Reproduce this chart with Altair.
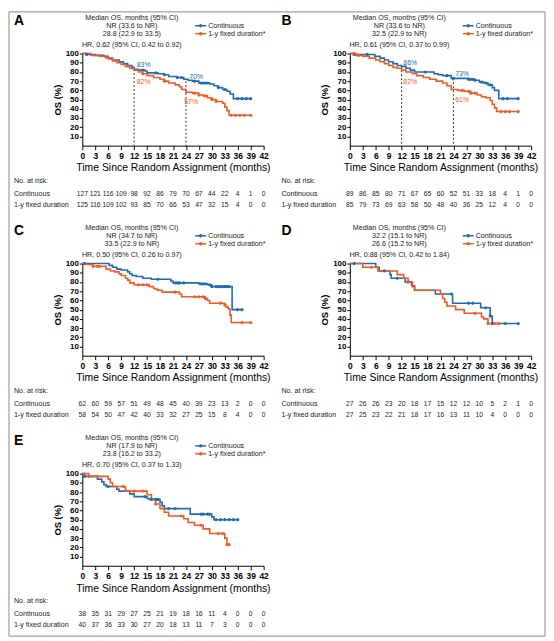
import pandas as pd
import altair as alt

BLUE = "#1f6cb0"
ORANGE = "#f15a22"
ARMS = ["Continuous", "1-y fixed duration*"]
ROW_NAMES = ["Continuous", "1-y fixed duration"]
FONT = "Liberation Sans"
RISK_TIMES = list(range(0, 43, 3))
W, H = 183, 93

# ---- Panel A ----
A_CONT_T = [0, 1, 3, 5, 6, 7, 8.5, 9.5, 10.5, 11.5, 12, 13, 14.5, 15, 17.5, 19, 20, 22, 23.5, 24.5, 25.5, 27, 29.5, 30.5, 31.5, 32.5, 33.5, 34.2, 35, 39]
A_CONT_S = [100, 99, 98, 97, 95, 93, 91, 89, 87, 85, 83, 82, 81, 79, 78, 77, 75, 74, 72, 71, 70, 68, 67, 65, 63, 61, 59, 56, 51, 51]
A_CONT_C = [1, 14, 17, 19, 22, 23, 26, 27.5, 28, 28.5, 29, 31.5, 33, 36, 37, 38, 39]
A_FIX_T = [0, 2, 4, 5.5, 6, 7, 8, 9, 10, 11, 12, 13, 14, 15, 16.5, 18, 19, 20, 21.5, 22.5, 23, 24, 25.5, 27, 28, 29, 30, 31, 32.5, 33, 33.5, 34, 39]
A_FIX_S = [100, 98, 97, 96, 94, 92, 90, 88, 86, 84, 82, 80, 78, 76, 74, 72, 70, 68, 66, 64, 61, 58, 57, 55, 54, 52, 50, 48, 46, 42, 38, 33, 33]
A_FIX_C = [5.5, 14, 19, 26, 27, 28.5, 30, 31, 34.5, 35.5, 36.5, 37.5, 39]
A_HEAD = ["NR (33.6 to NR)", "28.8 (22.9 to 33.5)", "HR, 0.62 (95% CI, 0.42  to 0.92)"]
A_RISK_CONT = [127, 121, 116, 109, 98, 92, 86, 79, 70, 67, 44, 22, 4, 1, 0]
A_RISK_FIX = [125, 116, 109, 102, 93, 85, 70, 66, 53, 47, 32, 15, 4, 0, 0]
A_MARK_T = [12, 24]
A_MARK_S = [83, 70]
A_PCT = ["83%", "82%", "70%", "57%"]
A_PCT_T = [12.6, 12.6, 24.8, 23.6]
A_PCT_S = [87.5, 69, 75, 47]

# ---- Panel B ----
B_CONT_T = [0, 1, 5.8, 7, 8, 9, 10, 11, 12, 13, 14, 15, 19.5, 20.5, 21.5, 23.5, 27.5, 29, 30, 31, 32, 33, 33.5, 34.5, 39]
B_CONT_S = [100, 99, 97, 95, 93, 91, 89, 87, 86, 84, 82, 80, 78, 77, 76, 73, 72, 71, 69, 68, 66, 63, 60, 51, 51]
B_CONT_C = [1, 4, 17.5, 22.5, 24, 27.5, 28, 28.5, 29, 30.5, 31.5, 32.5, 35.5, 36.5, 39]
B_FIX_T = [0, 1.5, 3, 4.5, 6, 7, 8, 9, 10, 11, 12, 13, 14.5, 15.5, 17, 18.5, 20, 21.5, 22.5, 23.5, 25, 26.5, 28, 29.5, 30.5, 31.5, 32.5, 33, 33.5, 34, 39]
B_FIX_S = [100, 98, 97, 95, 93, 91, 89, 87, 85, 84, 82, 80, 78, 76, 74, 72, 70, 68, 65, 61, 60, 59, 57, 55, 53, 52, 49, 45, 41, 37, 37]
B_FIX_C = [1, 2, 26, 27.5, 28, 29, 35, 36, 37, 39]
B_HEAD = ["NR (33.6  to NR)", "32.5 (22.9  to NR)", "HR, 0.61 (95% CI, 0.37  to 0.99)"]
B_RISK_CONT = [89, 86, 85, 80, 71, 67, 65, 60, 52, 51, 33, 18, 4, 1, 0]
B_RISK_FIX = [85, 79, 73, 69, 63, 58, 50, 48, 40, 36, 25, 12, 4, 0, 0]
B_MARK_T = [12, 24]
B_MARK_S = [86, 73]
B_PCT = ["86%", "82%", "73%", "61%"]
B_PCT_T = [12.4, 12.4, 24.4, 24.4]
B_PCT_S = [90, 69, 77.5, 50]

# ---- Panel C ----
C_CONT_T = [0, 6.2, 7, 8, 9, 10.5, 11, 11.5, 12.5, 14, 16, 20.5, 21, 27, 29, 30, 34.7, 37]
C_CONT_S = [100, 98, 96, 94, 93, 91, 89, 87, 86, 84, 83, 81, 79, 78, 77, 75, 50, 50]
C_CONT_C = [0.5, 17.5, 21.5, 22, 22.5, 23.5, 27.5, 28, 28.5, 29.5, 30, 31, 31.5, 32, 32.5, 33, 33.5, 34, 36, 37]
C_FIX_T = [0, 1, 2.5, 5.5, 6.5, 7.5, 8.5, 9, 10, 10.5, 11, 12, 15.5, 16.5, 17, 17.5, 18.5, 22.5, 23, 28.5, 29, 29.5, 33, 33.3, 33.8, 34.2, 34.5, 39]
C_FIX_S = [100, 99, 97, 94, 92, 91, 89, 87, 84, 82, 79, 77, 75, 73, 72, 71, 69, 67, 64, 62, 60, 57, 55, 53, 51, 44, 36, 36]
C_FIX_C = [2.5, 3.5, 4, 13, 14, 15, 21.5, 26, 27, 28, 28.5, 32, 33, 37, 39]
C_HEAD = ["NR (34.7  to NR)", "33.5 (22.9  to NR)", "HR, 0.50 (95% CI, 0.26 to 0.97)"]
C_RISK_CONT = [62, 60, 59, 57, 51, 49, 48, 45, 40, 39, 23, 13, 2, 0, 0]
C_RISK_FIX = [58, 54, 50, 47, 42, 40, 33, 32, 27, 25, 15, 8, 4, 0, 0]

# ---- Panel D ----
D_CONT_T = [0, 6, 6.8, 9.3, 9.6, 12.8, 14.3, 15, 19.8, 23.8, 30.3, 32.5, 33, 39]
D_CONT_S = [100, 96, 92, 88, 84, 80, 76, 71, 67, 57, 52, 43, 35, 35]
D_CONT_C = [1, 8, 11, 13.5, 23.5, 27.5, 28.5, 31.5, 32.5, 33, 36, 39]
D_FIX_T = [0, 3, 6.5, 11, 12.5, 13.5, 14.5, 15, 21, 21.5, 22, 22.5, 24.5, 26.5, 30.5, 31, 32, 34.5]
D_FIX_S = [100, 96, 92, 88, 84, 80, 75, 71, 67, 62, 58, 54, 50, 46, 42, 40, 35, 35]
D_FIX_C = [5, 13.5, 29, 32, 33.5, 34.5]
D_HEAD = ["32.2 (15.1 to NR)", "26.6 (15.2 to NR)", "HR, 0.88 (95% CI, 0.42  to 1.84)"]
D_RISK_CONT = [27, 26, 26, 23, 20, 18, 17, 15, 12, 12, 10, 5, 2, 1, 0]
D_RISK_FIX = [27, 25, 23, 22, 21, 18, 17, 16, 13, 11, 10, 4, 0, 0, 0]

# ---- Panel E ----
E_CONT_T = [0, 0.5, 3.5, 4.5, 5, 5.5, 8, 8.5, 11, 12, 15, 15.5, 18, 18.5, 19, 25, 30, 30.5, 36]
E_CONT_S = [100, 97, 94, 91, 88, 86, 83, 81, 78, 75, 73, 72, 69, 65, 62, 56, 53, 50, 50]
E_CONT_C = [0.5, 6, 14.5, 16, 17, 17.5, 20, 21.5, 27.5, 28, 29, 29.5, 31, 32, 33, 34, 35, 36]
E_FIX_T = [0, 1.5, 6, 6.5, 7, 10, 15, 16, 17, 18, 19, 20, 23.5, 24.5, 26, 28, 29.5, 33, 33.5, 34]
E_FIX_S = [100, 97, 94, 90, 86, 81, 77, 72, 67, 62, 58, 54, 51, 47, 44, 40, 35, 30, 23, 23]
E_FIX_C = [1.5, 3.5, 9.5, 12, 14, 17, 23, 27.5, 31.5, 32.5, 33.5, 34]
E_HEAD = ["NR (17.9 to NR)", "23.8 (16.2 to 33.2)", "HR, 0.70 (95% CI, 0.37 to 1.33)"]
E_RISK_CONT = [38, 35, 31, 29, 27, 25, 21, 19, 18, 16, 11, 4, 0, 0, 0]
E_RISK_FIX = [40, 37, 36, 33, 30, 27, 20, 18, 13, 11, 7, 3, 0, 0, 0]

XS = alt.Scale(domain=[0, 42], nice=False, zero=True)
YS = alt.Scale(domain=[0, 100], nice=False)
COLOR = alt.Color("arm:N", scale=alt.Scale(domain=ARMS, range=[BLUE, ORANGE]), legend=None)
X_AX = alt.Axis(values=RISK_TIMES, title="Time Since Random Assignment (months)",
                labelFont=FONT, labelFontWeight="bold", labelFontSize=8.5, tickSize=4,
                labelPadding=2, labelOverlap=False, titleFont=FONT, titleFontSize=10.5,
                titleFontWeight="normal", titlePadding=3, labelFlush=False)
Y_AX = alt.Axis(values=list(range(10, 101, 10)), title="OS (%)", labelFont=FONT,
                labelFontWeight="bold", labelFontSize=8, tickSize=3, labelPadding=1,
                labelOverlap=False, titleFont=FONT, titleFontSize=9.5,
                titleFontWeight="bold", titlePadding=3)
TS = 7.2


def xenc(field="t"):
    return alt.X(f"{field}:Q", scale=XS, axis=X_AX)


def yenc(field="s"):
    return alt.Y(f"{field}:Q", scale=YS, axis=Y_AX)


def step_value(times, surv, c):
    val = surv[0]
    for t, s in zip(times, surv):
        if t <= c:
            val = s
    return val


def txt(text, x, y, size=TS, align="center", weight="normal", color="#222"):
    return alt.Chart(pd.DataFrame({"label": [text]})).mark_text(
        align=align, baseline="middle", font=FONT, fontSize=size,
        fontWeight=weight, color=color
    ).encode(text="label:N", x=alt.value(x), y=alt.value(y))


def panel(letter, ct, cs, cc, ft, fs, fc, head, rc, rf, marks=None, pct=None, frame=False):
    curves = pd.concat([
        pd.DataFrame({"t": ct, "s": cs, "arm": ARMS[0]}),
        pd.DataFrame({"t": ft, "s": fs, "arm": ARMS[1]}),
    ])
    cens = pd.concat([
        pd.DataFrame({"t": cc, "s": [step_value(ct, cs, c) for c in cc], "arm": ARMS[0]}),
        pd.DataFrame({"t": fc, "s": [step_value(ft, fs, c) for c in fc], "arm": ARMS[1]}),
    ])
    layers = []
    if frame:
        layers.append(alt.Chart(pd.DataFrame({"a": [0]})).mark_rect(
            fillOpacity=0, stroke="#8a8a8a", strokeWidth=1
        ).encode(x=alt.value(-74), x2=alt.value(467), y=alt.value(-42), y2=alt.value(588)))
    if marks is not None:
        layers.append(alt.Chart(pd.DataFrame({"t": marks[0], "s": marks[1]})).mark_rule(
            color="#333", strokeDash=[2, 2], strokeWidth=1
        ).encode(x=xenc(), y=yenc(), y2=alt.datum(0)))
    layers.append(alt.Chart(curves).mark_line(interpolate="step-after", strokeWidth=1.6).encode(
        x=xenc(), y=yenc(), color=COLOR))
    layers.append(alt.Chart(cens).mark_point(filled=True, size=10, opacity=1).encode(
        x=xenc(), y=yenc(), color=COLOR))
    if pct is not None:
        pdf = pd.DataFrame({"t": pct[1], "s": pct[2], "label": pct[0],
                            "arm": [ARMS[0], ARMS[1], ARMS[0], ARMS[1]]})
        layers.append(alt.Chart(pdf).mark_text(
            align="left", baseline="middle", font=FONT, fontSize=7
        ).encode(x=xenc(), y=yenc(), text="label:N", color=COLOR))
    # panel letter and header
    layers.append(txt(letter, -69, -33, size=14, align="left", weight="bold", color="#000"))
    layers.append(txt("Median OS, months (95% CI)", 50, -36))
    layers.append(txt(head[0], 50, -28))
    layers.append(txt(head[1], 50, -20))
    layers.append(txt(head[2], 50, -9))
    # legend
    for i, (arm, col) in enumerate(zip(ARMS, [BLUE, ORANGE])):
        yy = -28 + 8 * i
        layers.append(alt.Chart(pd.DataFrame({"a": [0]})).mark_rule(color=col, strokeWidth=1.5).encode(
            x=alt.value(114), x2=alt.value(125), y=alt.value(yy)))
        layers.append(alt.Chart(pd.DataFrame({"a": [0]})).mark_point(
            filled=True, size=12, color=col, opacity=1).encode(x=alt.value(119.5), y=alt.value(yy)))
        layers.append(txt(arm, 127, yy, align="left"))
    # risk table
    layers.append(txt("No. at risk:", -69, H + 36, align="left"))
    for i, (name, nums) in enumerate(zip(ROW_NAMES, [rc, rf])):
        yy = H + 49 + 11 * i
        layers.append(txt(name, -69, yy, align="left"))
        layers.append(alt.Chart(pd.DataFrame({"t": RISK_TIMES, "n": nums})).mark_text(
            baseline="middle", font=FONT, fontSize=6.8, color="#222"
        ).encode(x=xenc(), y=alt.value(yy), text="n:Q"))
    return alt.layer(*layers).properties(width=W, height=H)


pA = panel("A", A_CONT_T, A_CONT_S, A_CONT_C, A_FIX_T, A_FIX_S, A_FIX_C, A_HEAD,
           A_RISK_CONT, A_RISK_FIX, (A_MARK_T, A_MARK_S), (A_PCT, A_PCT_T, A_PCT_S), frame=True)
pB = panel("B", B_CONT_T, B_CONT_S, B_CONT_C, B_FIX_T, B_FIX_S, B_FIX_C, B_HEAD,
           B_RISK_CONT, B_RISK_FIX, (B_MARK_T, B_MARK_S), (B_PCT, B_PCT_T, B_PCT_S))
pC = panel("C", C_CONT_T, C_CONT_S, C_CONT_C, C_FIX_T, C_FIX_S, C_FIX_C, C_HEAD,
           C_RISK_CONT, C_RISK_FIX)
pD = panel("D", D_CONT_T, D_CONT_S, D_CONT_C, D_FIX_T, D_FIX_S, D_FIX_C, D_HEAD,
           D_RISK_CONT, D_RISK_FIX)
pE = panel("E", E_CONT_T, E_CONT_S, E_CONT_C, E_FIX_T, E_FIX_S, E_FIX_C, E_HEAD,
           E_RISK_CONT, E_RISK_FIX)

chart = alt.concat(
    pA, pB, pC, pD, pE, columns=2, spacing={"row": 119, "column": 87}, bounds="flush"
).properties(
    padding=0
).configure_view(
    stroke=None
).configure_axis(
    grid=False, domainColor="#000", tickColor="#000", labelColor="#000", titleColor="#000"
)

chart.save("out.html", embed_options={"renderer": "svg", "actions": False})
